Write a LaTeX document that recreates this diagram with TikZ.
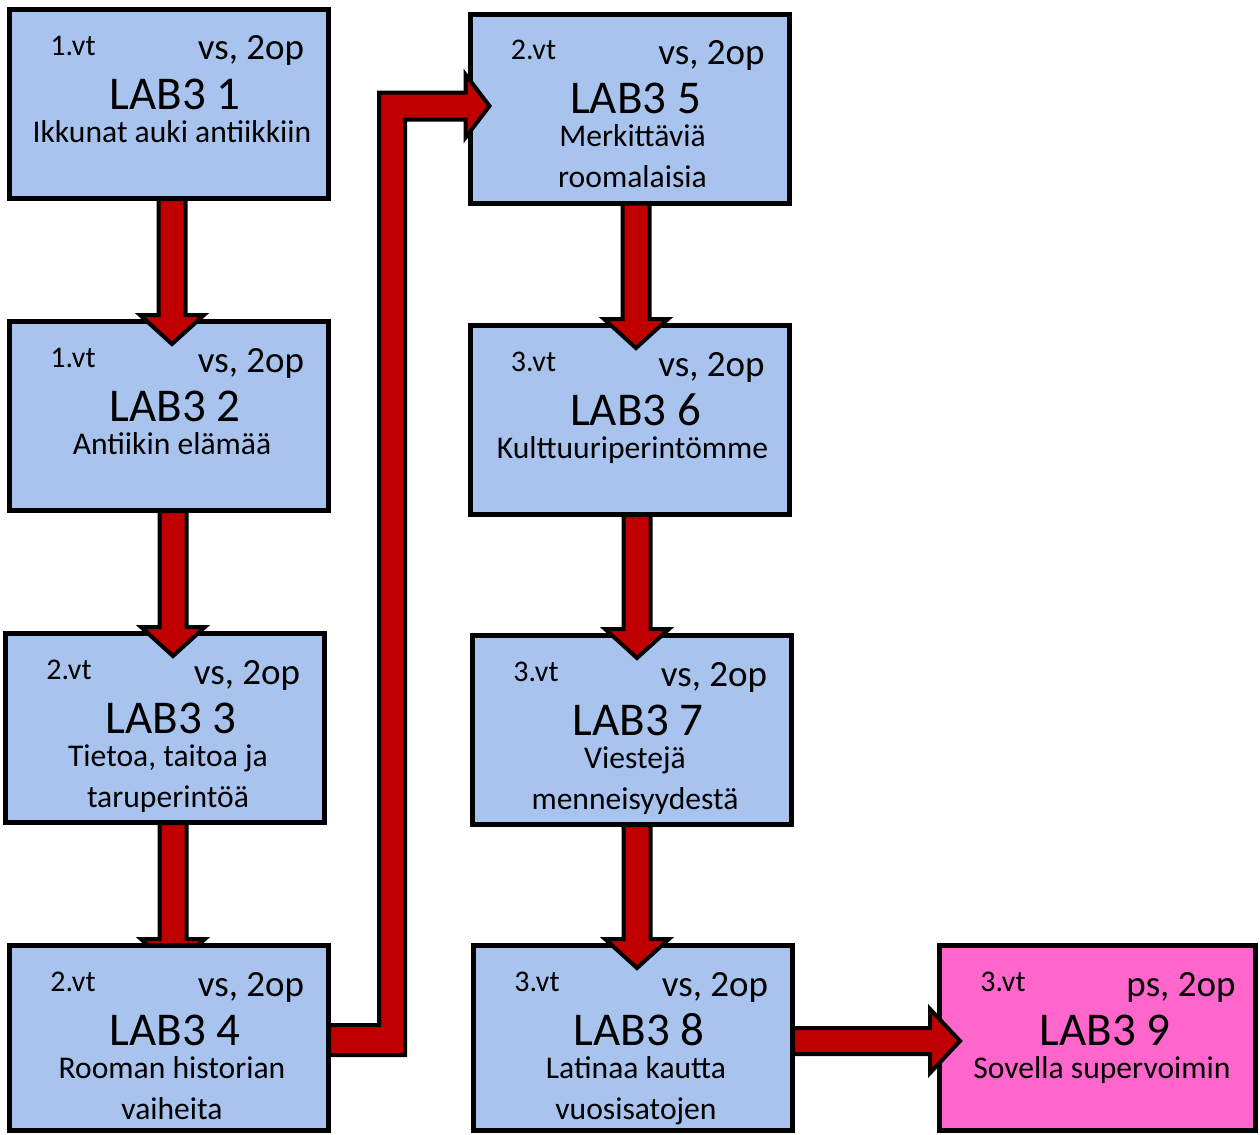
\documentclass[tikz,border=0pt]{standalone}
\usepackage{fontspec}
\setmainfont{Carlito}
\usetikzlibrary{calc}
\definecolor{boxblue}{HTML}{A8C4EE}
\definecolor{boxpink}{HTML}{FF66CC}
\definecolor{arrred}{HTML}{C00000}
\pgfdeclarelayer{background}
\pgfsetlayers{background,main}
\tikzset{
  box/.style={draw, line width=2.5pt, fill=boxblue, minimum width=159.5pt, minimum height=94.5pt, inner sep=0pt},
  shortbox/.style={box, minimum height=92.5pt},
  pinkbox/.style={shortbox, fill=boxpink, minimum width=158pt},
  blockarrow/.style={draw, fill=arrred, line width=2pt, line join=miter},
  smalltxt/.style={anchor=base, inner sep=0pt, font=\fontsize{15}{18}\selectfont},
  vstxt/.style={anchor=base, inner sep=0pt, font=\fontsize{18.5}{22}\selectfont},
  labtxt/.style={anchor=base, inner sep=0pt, font=\fontsize{23.5}{28}\selectfont},
  subtxt/.style={anchor=base, inner sep=0pt, font=\fontsize{15.8}{19}\selectfont}
}
\newcommand\boxhead[4]{%
  \node[smalltxt] (#1s) at ($(#1.north west)+(66,48)$) {#2};
  \node[vstxt] (#1v) at ($(#1.north west)+(244,53)$) {#3};
  \node[labtxt] (#1l) at ($(#1.north west)+(168,102)$) {#4};
}
\newcommand\subone[2]{\node[subtxt] (#1a) at ($(#1.north west)+(165,135)$) {#2};}
\newcommand\subtwo[2]{\node[subtxt] (#1b) at ($(#1.north west)+(165,176)$) {#2};}
\newcommand\vblock[3]{%
  \draw[blockarrow] let \p1=($(#1.south)+(#3,0)$), \p2=($(#2.north)+(#3,0)$) in
    (\x1-6.75pt,\y1+1pt) -- (\x1-6.75pt,\y2+2pt) -- (\x1-16pt,\y2+2pt) -- (\x1,\y2-12.5pt)
    -- (\x1+16pt,\y2+2pt) -- (\x1+6.75pt,\y2+2pt) -- (\x1+6.75pt,\y1+1pt) -- cycle;
}
\begin{document}
\begin{tikzpicture}[x=0.5pt,y=-0.5pt]
\useasboundingbox (0,0) rectangle (1260,1135);
% boxes
\node[box] (b1) at (169,104) {};
\node[box] (b2) at (169,416) {};
\node[box] (b3) at (165,728) {};
\node[shortbox] (b4) at (169,1038) {};
\node[box] (b5) at (629.5,108.5) {};
\node[box] (b6) at (629.5,420) {};
\node[box] (b7) at (632,730) {};
\node[shortbox] (b8) at (633,1038) {};
\node[pinkbox] (b9) at (1097.5,1038) {};
% texts
\boxhead{b1}{1.vt}{vs, 2op}{LAB3 1}\subone{b1}{Ikkunat auki antiikkiin}
\boxhead{b2}{1.vt}{vs, 2op}{LAB3 2}\subone{b2}{Antiikin elämää}
\boxhead{b3}{2.vt}{vs, 2op}{LAB3 3}\subone{b3}{Tietoa, taitoa ja}\subtwo{b3}{taruperintöä}
\boxhead{b4}{2.vt}{vs, 2op}{LAB3 4}\subone{b4}{Rooman historian}\subtwo{b4}{vaiheita}
\boxhead{b5}{2.vt}{vs, 2op}{LAB3 5}\subone{b5}{Merkittäviä}\subtwo{b5}{roomalaisia}
\boxhead{b6}{3.vt}{vs, 2op}{LAB3 6}\subone{b6}{Kulttuuriperintömme}
\boxhead{b7}{3.vt}{vs, 2op}{LAB3 7}\subone{b7}{Viestejä}\subtwo{b7}{menneisyydestä}
\boxhead{b8}{3.vt}{vs, 2op}{LAB3 8}\subone{b8}{Latinaa kautta}\subtwo{b8}{vuosisatojen}
\boxhead{b9}{3.vt}{ps, 2op}{LAB3 9}\subone{b9}{Sovella supervoimin}
% arrows
\vblock{b1}{b2}{3}
\vblock{b2}{b3}{4}
\begin{pgfonlayer}{background}
\vblock{b3}{b4}{8}
\end{pgfonlayer}
\vblock{b5}{b6}{6.5}
\vblock{b6}{b7}{7.5}
\vblock{b7}{b8}{5}
% b8 -> b9
\draw[blockarrow] let \p1=($(b8.east)+(0,3)$), \p2=(b9.west) in
  (\x1-1pt,\y1+6.5pt) -- (\x2-3.5pt,\y1+6.5pt) -- (\x2-3.5pt,\y1+16pt) -- (\x2+11.5pt,\y1)
  -- (\x2-3.5pt,\y1-16pt) -- (\x2-3.5pt,\y1-6.5pt) -- (\x1-1pt,\y1-6.5pt) -- cycle;
% b4 -> b5 (bent)
\draw[blockarrow] let \p1=($(b4.east)+(0,2)$), \p2=($(b5.west)+(0,-2.5)$), \p3=($(b4.east)+(61,0)$) in
  (\x1-1pt,\y1+7.5pt) -- (\x3-6.5pt,\y1+7.5pt) -- (\x3-6.5pt,\y2+6.75pt) -- (\x2-1pt,\y2+6.75pt)
  -- (\x2-1pt,\y2+15.75pt) -- (\x2+11pt,\y2) -- (\x2-1pt,\y2-15.75pt) -- (\x2-1pt,\y2-6.75pt)
  -- (\x3+6.5pt,\y2-6.75pt) -- (\x3+6.5pt,\y1-7.5pt) -- (\x1-1pt,\y1-7.5pt) -- cycle;
\end{tikzpicture}
\end{document}
